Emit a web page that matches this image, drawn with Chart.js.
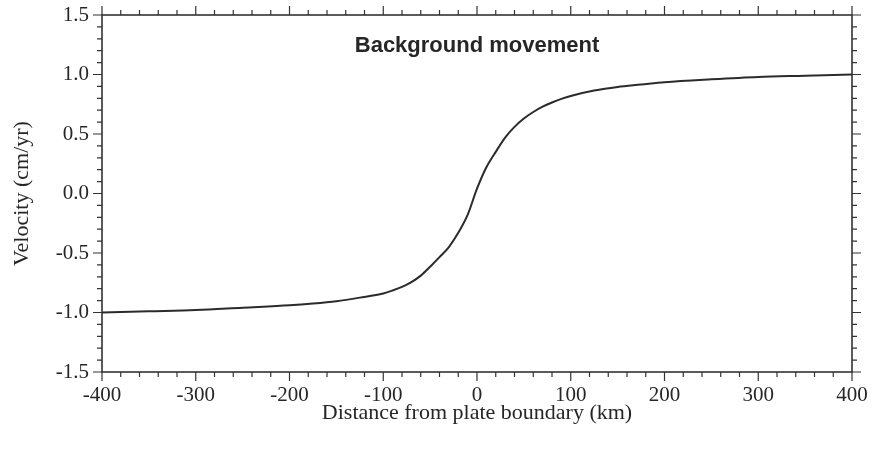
<!DOCTYPE html>
<html>
<head>
<meta charset="utf-8">
<title>Background movement</title>
<script src="https://cdn.jsdelivr.net/npm/chart.js@4/dist/chart.umd.min.js"></script>
<style>
  html, body { margin: 0; padding: 0; background: #fff; }
  canvas { display: block; }
</style>
</head>
<body>
<canvas id="velocityChart" width="873" height="449"></canvas>
<script>
// distance from the plate boundary (km) and surface velocity (cm/yr)
const distanceKm = [-400, -350, -300, -250, -200, -175, -150, -125, -100, -90, -80, -70, -60, -50, -40, -30, -20, -10,
  0, 10, 20, 30, 40, 50, 60, 70, 80, 90, 100, 125, 150, 175, 200, 250, 300, 350, 400];
const velocity = [-1.00, -0.99, -0.98, -0.96, -0.94, -0.925, -0.905, -0.875, -0.84, -0.815, -0.785, -0.745, -0.69, -0.615, -0.535, -0.45, -0.33, -0.18,
  0.04, 0.22, 0.35, 0.47, 0.56, 0.63, 0.685, 0.73, 0.765, 0.795, 0.82, 0.865, 0.895, 0.915, 0.935, 0.96, 0.98, 0.99, 1.00];

const xRange = [-400, 400];
const yRange = [-1.5, 1.5];
const xTickStep = 100;
const yTickStep = 0.5;

const serif = '"Liberation Serif", "Times New Roman", serif';
const ink = '#262626';

// boxed frame with major/minor ticks on all four sides, plus the panel title
const frameTicks = {
  id: 'frameTicks',
  afterDraw(chart) {
    const { ctx, chartArea: a, scales: { x, y } } = chart;
    ctx.save();
    ctx.strokeStyle = '#333';
    ctx.lineWidth = 1.6;
    ctx.strokeRect(a.left, a.top, a.right - a.left, a.bottom - a.top);

    ctx.lineWidth = 1.2;
    ctx.beginPath();
    for (let v = xRange[0]; v <= xRange[1]; v += 20) {
      const px = x.getPixelForValue(v);
      const len = v % 100 === 0 ? 9 : 5;
      ctx.moveTo(px, a.bottom); ctx.lineTo(px, a.bottom + len);
      ctx.moveTo(px, a.top); ctx.lineTo(px, a.top - len);
    }
    for (let i = -15; i <= 15; i++) {
      const py = y.getPixelForValue(i / 10);
      const len = i % 5 === 0 ? 9 : 5;
      ctx.moveTo(a.left, py); ctx.lineTo(a.left - len, py);
      ctx.moveTo(a.right, py); ctx.lineTo(a.right + len, py);
    }
    ctx.stroke();

    ctx.fillStyle = ink;
    ctx.font = 'bold 22px "Liberation Sans", Arial, sans-serif';
    ctx.textAlign = 'center';
    ctx.textBaseline = 'middle';
    ctx.fillText('Background movement', (a.left + a.right) / 2, a.top + 31);
    ctx.restore();
  }
};

// fixed axis boxes; the edge labels may overhang the frame
const noEdgePadding = s => {
  s.paddingTop = 0; s.paddingBottom = 0;
  s.paddingLeft = 0; s.paddingRight = 0;
};

new Chart(document.getElementById('velocityChart'), {
  type: 'line',
  data: {
    datasets: [{
      data: distanceKm.map((d, i) => ({ x: d, y: velocity[i] })),
      borderColor: '#2b2b2b',
      borderWidth: 2,
      pointRadius: 0,
      cubicInterpolationMode: 'monotone',
      fill: false
    }]
  },
  options: {
    responsive: false,
    animation: false,
    layout: { padding: { top: 15, right: 21, left: 0, bottom: 0 } },
    plugins: { legend: { display: false }, tooltip: { enabled: false } },
    scales: {
      x: {
        type: 'linear',
        min: xRange[0], max: xRange[1],
        grid: { display: false, drawTicks: false },
        border: { display: false },
        ticks: {
          stepSize: xTickStep,
          padding: 11,
          color: ink,
          font: { family: serif, size: 21 },
          callback: v => String(v)
        },
        title: {
          display: true,
          text: 'Distance from plate boundary (km)',
          color: ink,
          font: { family: serif, size: 22 },
          padding: { top: 0, bottom: 23 }
        },
        afterFit: s => { s.height = 77; noEdgePadding(s); }
      },
      y: {
        min: yRange[0], max: yRange[1],
        grid: { display: false, drawTicks: false },
        border: { display: false },
        ticks: {
          stepSize: yTickStep,
          padding: 13,
          color: ink,
          font: { family: serif, size: 21 },
          callback: v => Number(v).toFixed(1)
        },
        title: {
          display: true,
          text: 'Velocity (cm/yr)',
          color: ink,
          font: { family: serif, size: 22 },
          padding: { top: 9, bottom: 0 }
        },
        afterFit: s => { s.width = 102; noEdgePadding(s); }
      }
    }
  },
  plugins: [frameTicks]
});
</script>
</body>
</html>
